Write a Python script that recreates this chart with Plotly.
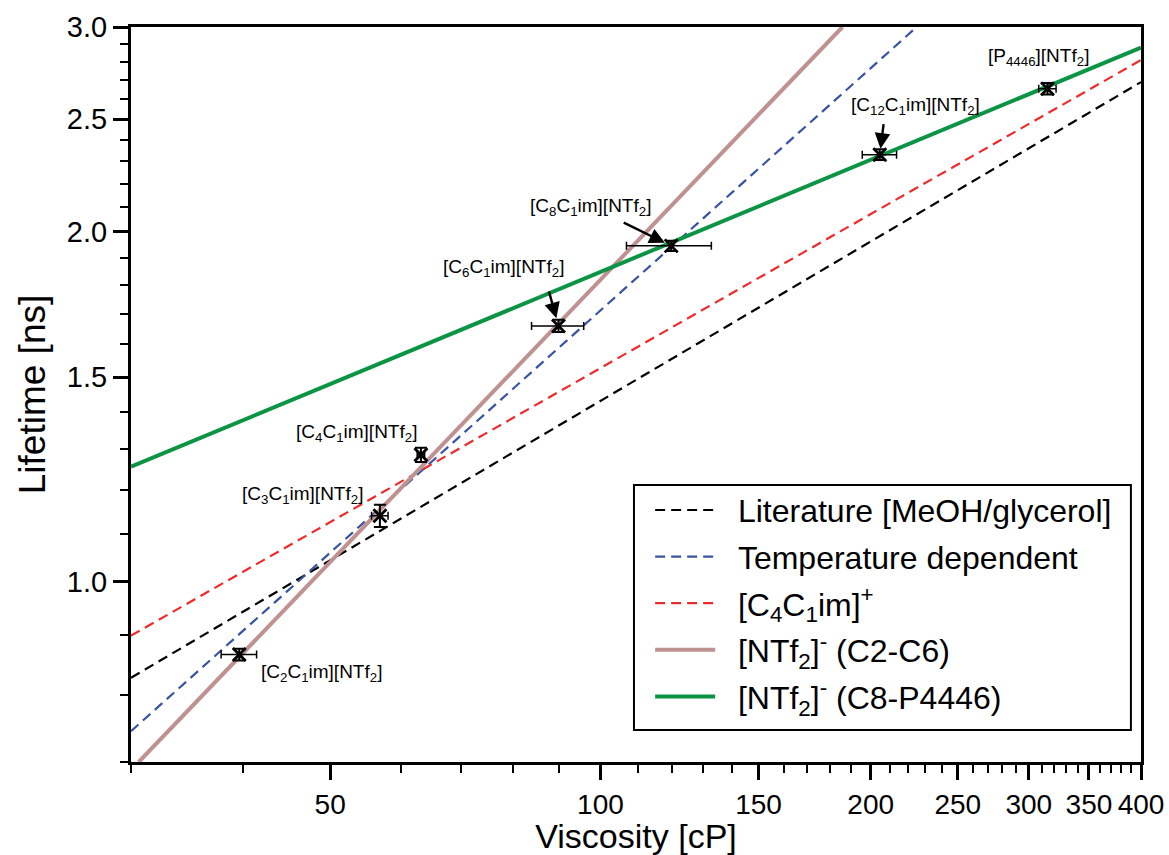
import numpy as np
import plotly.graph_objects as go

# ---- measured data points (ionic liquids) ----
labels = [
    "[C<sub>2</sub>C<sub>1</sub>im][NTf<sub>2</sub>]",
    "[C<sub>3</sub>C<sub>1</sub>im][NTf<sub>2</sub>]",
    "[C<sub>4</sub>C<sub>1</sub>im][NTf<sub>2</sub>]",
    "[C<sub>6</sub>C<sub>1</sub>im][NTf<sub>2</sub>]",
    "[C<sub>8</sub>C<sub>1</sub>im][NTf<sub>2</sub>]",
    "[C<sub>12</sub>C<sub>1</sub>im][NTf<sub>2</sub>]",
    "[P<sub>4446</sub>][NTf<sub>2</sub>]",
]
viscosity = [39.6, 56.8, 63.1, 89.8, 119.9, 204.7, 314.7]
viscosity_err = [1.8, 1.2, 0.6, 6.0, 13.0, 9.0, 7.0]
lifetime = [0.866, 1.14, 1.286, 1.66, 1.945, 2.33, 2.655]
lifetime_err = [0.010, 0.025, 0.018, 0.020, 0.020, 0.025, 0.030]

# ---- fitted power-law lines (end points) ----
lit_x, lit_y = [30, 400], [0.827, 2.69]
temp_x, temp_y = [30, 225], [0.744, 3.0]
c4_x, c4_y = [30, 400], [0.899, 2.81]
ntfA_x, ntfA_y = [30.6, 186], [0.70, 3.0]
ntfB_x, ntfB_y = [30, 400], [1.256, 2.88]

x_major = [50, 100, 150, 200, 250, 300, 350, 400]
x_minor = [30, 40, 60, 70, 80, 90, 110, 120, 130, 140, 160, 170, 180, 190,
           210, 220, 230, 240, 260, 270, 280, 290, 310, 320, 330, 340,
           360, 370, 380, 390]
y_major = [1.0, 1.5, 2.0, 2.5, 3.0]
y_major_text = ["1.0", "1.5", "2.0", "2.5", "3.0"]
y_minor = [0.7, 0.8, 0.9, 1.1, 1.2, 1.3, 1.4, 1.6, 1.7, 1.8, 1.9,
           2.1, 2.2, 2.3, 2.4, 2.6, 2.7, 2.8, 2.9]

FONT = "Liberation Sans, Arial, Helvetica, sans-serif"
GAP = "\u00a0\u00a0"

fig = go.Figure()
line_specs = [
    ("Literature [MeOH/glycerol]", lit_x, lit_y, "black", "10px,6px", 2.2),
    ("Temperature dependent", temp_x, temp_y, "#3953a4", "10px,6px", 2.2),
    ("[C<sub>4</sub>C<sub>1</sub>im]<sup>+</sup>", c4_x, c4_y, "#ee2b2b", "10px,6px", 2.2),
    ("[NTf<sub>2</sub>]<sup>-</sup> (C2-C6)", ntfA_x, ntfA_y, "#bf9191", "solid", 4),
    ("[NTf<sub>2</sub>]<sup>-</sup> (C8-P4446)", ntfB_x, ntfB_y, "#0b9444", "solid", 4),
]
for i, (name, xs, ys, col, dash, w) in enumerate(line_specs):
    fig.add_trace(go.Scatter(
        x=xs, y=ys, mode="lines", name=GAP + name, legendgroup=f"g{i}",
        line=dict(color=col, dash=dash, width=w),
    ))

fig.add_trace(go.Scatter(
    x=viscosity, y=lifetime, mode="markers", showlegend=False,
    marker=dict(symbol="x-thin", size=13, color="black",
                line=dict(color="black", width=2.8)),
    error_x=dict(type="data", array=viscosity_err, color="black",
                 thickness=1.5, width=4),
    error_y=dict(type="data", array=lifetime_err, color="black",
                 thickness=2, width=6),
))

# label placement: text offset (px) and optional arrow tail offset (px)
label_pos = [
    dict(dx=82, dy=-18, arrow=None),
    dict(dx=-77, dy=21, arrow=None),
    dict(dx=-64, dy=22, arrow=None),
    dict(dx=-55, dy=58, arrow=(-10, -36, 8)),
    dict(dx=-81, dy=39, arrow=(-49, -24, 7)),
    dict(dx=36, dy=49, arrow=(4, -32, 6)),
    dict(dx=-9, dy=32, arrow=None),
]
annotations = []
for lab, xv, yv, p in zip(labels, viscosity, lifetime, label_pos):
    lx, ly = np.log10(xv), np.log10(yv)
    annotations.append(dict(
        x=lx, y=ly, xref="x", yref="y", text=lab, showarrow=False,
        xshift=p["dx"], yshift=p["dy"],
        font=dict(family=FONT, size=19, color="black")))
    if p["arrow"] is not None:
        ax, ay, so = p["arrow"]
        annotations.append(dict(
            x=lx, y=ly, xref="x", yref="y", text="", showarrow=True,
            ax=ax, ay=ay, arrowhead=2, arrowsize=1.3, arrowwidth=2.4,
            arrowcolor="black", standoff=so))

axis_common = dict(
    type="log", showline=True, linecolor="black", linewidth=3, mirror=True,
    ticks="outside", ticklen=15, tickwidth=3, tickcolor="black",
    showgrid=False, zeroline=False, automargin=False,
)
fig.update_layout(
    width=1169, height=855,
    margin=dict(l=131, r=28, t=27, b=93),
    plot_bgcolor="white", paper_bgcolor="white",
    font=dict(family=FONT, color="black"),
    xaxis=dict(
        **axis_common,
        range=[np.log10(30), np.log10(400)],
        tickmode="array", tickvals=x_major, ticktext=[str(v) for v in x_major],
        tickfont=dict(size=28, family=FONT),
        minor=dict(tickmode="array", tickvals=x_minor, ticks="outside",
                   ticklen=8, tickwidth=2, tickcolor="black", showgrid=False),
        title=dict(text="Viscosity [cP]", font=dict(size=34, family=FONT), standoff=8),
    ),
    yaxis=dict(
        **axis_common,
        range=[np.log10(0.7), np.log10(3.0)],
        tickmode="array", tickvals=y_major, ticktext=y_major_text,
        tickfont=dict(size=29, family=FONT),
        minor=dict(tickmode="array", tickvals=y_minor, ticks="outside",
                   ticklen=8, tickwidth=2, tickcolor="black", showgrid=False),
        title=dict(text="Lifetime [ns]", font=dict(size=37, family=FONT), standoff=10),
    ),
    legend=dict(
        x=0.514, xanchor="left", y=0.380, yanchor="top",
        bgcolor="rgba(0,0,0,0)", borderwidth=0,
        font=dict(size=32, family=FONT, color="black"),
        tracegroupgap=2, itemwidth=60,
    ),
    shapes=[dict(type="rect", xref="paper", yref="paper",
                 x0=0.498, x1=0.990, y0=0.0435, y1=0.377,
                 fillcolor="white", line=dict(color="black", width=2),
                 layer="above")],
    annotations=annotations,
    showlegend=True,
)

fig.write_html("out.html")
